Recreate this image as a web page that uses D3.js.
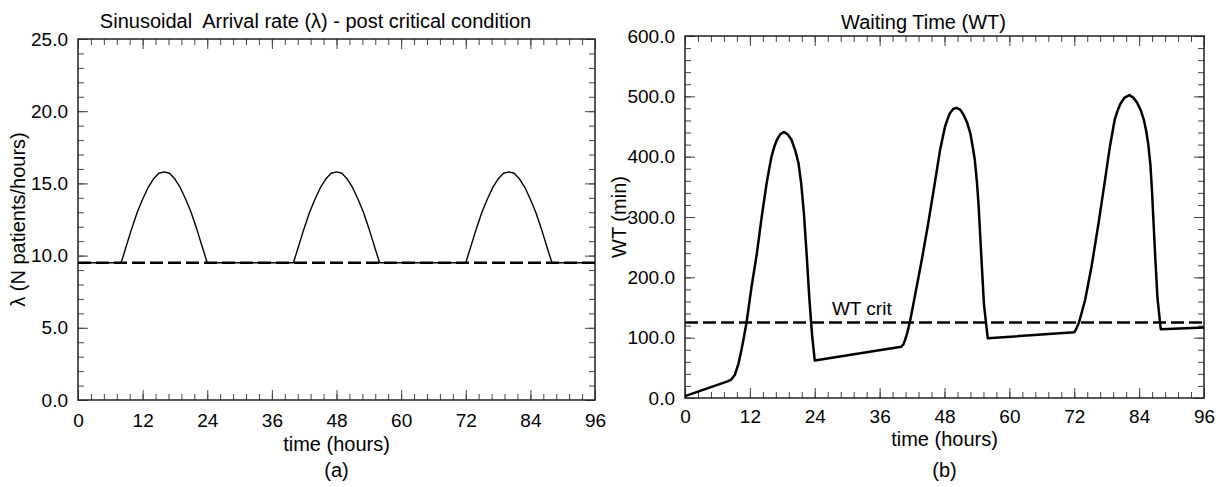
<!DOCTYPE html>
<html>
<head>
<meta charset="utf-8">
<script src="https://cdn.jsdelivr.net/npm/d3@7"></script>
<style>
  body { margin: 0; background: #fff; }
  svg { display: block; }
  text { font-family: "Liberation Sans", Arial, sans-serif; fill: #000; white-space: pre; }
</style>
</head>
<body>
<div id="chart"></div>
<script>
// time axis (hours)
var timeTicks = [0, 12, 24, 36, 48, 60, 72, 84, 96];

// panel (a): arrival rate lambda
var lambdaHours = [0, 8, 9, 10, 11, 12, 13, 14, 15, 16, 17, 18, 19, 20, 21, 22, 23, 24,
  40, 41, 42, 43, 44, 45, 46, 47, 48, 49, 50, 51, 52, 53, 54, 55, 56,
  72, 73, 74, 75, 76, 77, 78, 79, 80, 81, 82, 83, 84, 85, 86, 87, 88, 96];
var lambdaValues = [9.5, 9.5, 10.7, 11.9, 13.0, 13.9, 14.7, 15.3, 15.7, 15.8, 15.7, 15.3, 14.7, 13.9, 13.0, 11.9, 10.7, 9.5,
  9.5, 10.7, 11.9, 13.0, 13.9, 14.7, 15.3, 15.7, 15.8, 15.7, 15.3, 14.7, 13.9, 13.0, 11.9, 10.7, 9.5,
  9.5, 10.7, 11.9, 13.0, 13.9, 14.7, 15.3, 15.7, 15.8, 15.7, 15.3, 14.7, 13.9, 13.0, 11.9, 10.7, 9.5, 9.5];
var lambdaCrit = 9.5;
var lambdaTicks = [0, 5, 10, 15, 20, 25];

// panel (b): waiting time
var wtHours = [0, 8.0, 8.6, 9.2, 9.9, 10.4, 10.8, 11.4, 12.3, 13.3, 14.2, 15.1, 15.6, 16.0, 16.5, 17.0, 17.6, 18.3,
  19.0, 19.7, 20.4, 21.0, 21.5, 22.0, 22.5, 23.0, 23.5, 24.0,
  40.0, 40.4, 40.7, 41.1, 41.6, 42.5, 43.8, 45.0, 46.2, 47.2, 47.7, 48.1, 48.6, 49.0, 49.6, 50.2,
  50.9, 51.5, 52.2, 52.8, 53.3, 53.6, 54.0, 54.3, 54.6, 54.9, 55.3, 56.0,
  72.0, 72.4, 72.9, 74.0, 75.2, 76.5, 77.7, 78.6, 79.1, 79.5, 80.0, 80.5, 81.3, 82.2,
  82.9, 83.6, 84.3, 84.9, 85.3, 85.7, 86.1, 86.4, 86.7, 87.0, 87.4, 88.0, 96];
var wtValues = [3, 28, 31, 38, 57, 78, 96, 126, 184, 240, 301, 356, 381, 400, 416, 428, 437, 441,
  437, 428, 410, 389, 355, 305, 238, 165, 105, 62,
  85, 89, 96, 108, 126, 168, 229, 290, 356, 412, 433, 450, 463, 472, 479, 481,
  478, 470, 456, 438, 412, 395, 358, 320, 270, 220, 155, 99,
  109, 115, 126, 162, 218, 290, 362, 417, 442, 462, 476, 487, 498, 502,
  498, 490, 477, 460, 443, 420, 385, 340, 285, 230, 165, 114, 117];
var wtCrit = 125;
var wtTicks = [0, 100, 200, 300, 400, 500, 600];

var svg = d3.select("#chart").append("svg")
  .attr("width", 1218)
  .attr("height", 487);

var fmt = d3.format(".1f");

function panel(opt) {
  var g = svg.append("g");

  var x = d3.scaleLinear().domain([0, 96]).range([opt.left, opt.right]);
  var y = d3.scaleLinear().domain(opt.yDomain).range([opt.bottom, opt.top]);

  // minor ticks on all four sides (inward)
  var xMinor = d3.range(0, 96.01, 2.4);
  var yMinor = d3.range(opt.yDomain[0], opt.yDomain[1] + 1e-6, opt.yMinorStep);

  function addAxis(axis, tr, labels) {
    var a = g.append("g").attr("transform", tr).call(axis);
    a.select(".domain").remove();
    a.selectAll(".tick line").attr("stroke", "#444").attr("stroke-width", 1);
    if (!labels) a.selectAll(".tick text").remove();
    return a;
  }

  addAxis(d3.axisBottom(x).tickValues(xMinor).tickSizeInner(-6).tickSizeOuter(0).tickFormat(""), "translate(0," + opt.bottom + ")", false);
  addAxis(d3.axisTop(x).tickValues(xMinor).tickSizeInner(-6).tickSizeOuter(0).tickFormat(""), "translate(0," + opt.top + ")", false);
  addAxis(d3.axisLeft(y).tickValues(yMinor).tickSizeInner(-6).tickSizeOuter(0).tickFormat(""), "translate(" + opt.left + ",0)", false);
  addAxis(d3.axisRight(y).tickValues(yMinor).tickSizeInner(-6).tickSizeOuter(0).tickFormat(""), "translate(" + opt.right + ",0)", false);

  // major ticks
  var xb = addAxis(d3.axisBottom(x).tickValues(timeTicks).tickSizeInner(-10).tickSizeOuter(0).tickPadding(opt.xPad),
    "translate(0," + opt.bottom + ")", true);
  addAxis(d3.axisTop(x).tickValues(timeTicks).tickSizeInner(-10).tickSizeOuter(0), "translate(0," + opt.top + ")", false);
  var yl = addAxis(d3.axisLeft(y).tickValues(opt.yTicks).tickSizeInner(-10).tickSizeOuter(0).tickPadding(10).tickFormat(fmt),
    "translate(" + opt.left + ",0)", true);
  addAxis(d3.axisRight(y).tickValues(opt.yTicks).tickSizeInner(-10).tickSizeOuter(0), "translate(" + opt.right + ",0)", false);

  xb.selectAll("text").attr("font-size", 19).attr("font-family", "Liberation Sans, Arial, sans-serif").attr("fill", "#000");
  yl.selectAll("text").attr("font-size", 19).attr("font-family", "Liberation Sans, Arial, sans-serif").attr("fill", "#000");

  // frame
  g.append("rect")
    .attr("x", opt.left).attr("y", opt.top)
    .attr("width", opt.right - opt.left).attr("height", opt.bottom - opt.top)
    .attr("fill", "none").attr("stroke", "#222").attr("stroke-width", 1.5);

  // critical dashed line
  g.append("line")
    .attr("x1", x(0)).attr("x2", x(96))
    .attr("y1", y(opt.crit)).attr("y2", y(opt.crit))
    .attr("stroke", "#000").attr("stroke-width", 2.5)
    .attr("stroke-dasharray", "13,5");

  // data curve
  var pts = opt.hours.map(function (h, i) { return [h, opt.values[i]]; });
  g.append("path")
    .datum(pts)
    .attr("fill", "none")
    .attr("stroke", "#000")
    .attr("stroke-width", opt.lineWidth)
    .attr("stroke-linejoin", "round")
    .attr("d", d3.line()
      .x(function (d) { return x(d[0]); })
      .y(function (d) { return y(d[1]); }));

  var cx = (opt.left + opt.right) / 2;

  // titles and labels
  g.append("text")
    .attr("x", cx - 21).attr("y", opt.titleY)
    .attr("text-anchor", "middle").attr("font-size", 20)
    .text(opt.title);

  g.append("text")
    .attr("x", cx).attr("y", opt.xLabelY)
    .attr("text-anchor", "middle").attr("font-size", 20)
    .text("time (hours)");

  g.append("text")
    .attr("x", cx).attr("y", opt.captionY)
    .attr("text-anchor", "middle").attr("font-size", 20)
    .text(opt.caption);

  g.append("text")
    .attr("transform", "translate(" + opt.yLabelX + "," + ((opt.top + opt.bottom) / 2) + ") rotate(-90)")
    .attr("text-anchor", "middle").attr("dominant-baseline", "central").attr("font-size", 20)
    .text(opt.yLabel);

  return { x: x, y: y, g: g };
}

var a = panel({
  left: 78, right: 595, top: 39, bottom: 400,
  yDomain: [0, 25], yTicks: lambdaTicks, yMinorStep: 1,
  hours: lambdaHours, values: lambdaValues, crit: lambdaCrit,
  lineWidth: 1.4, xPad: 14,
  title: "Sinusoidal  Arrival rate (\u03bb) - post critical condition", titleY: 28,
  xLabelY: 451, captionY: 477, caption: "(a)",
  yLabel: "\u03bb (N patients/hours)", yLabelX: 18
});

var b = panel({
  left: 685, right: 1204, top: 36, bottom: 398,
  yDomain: [0, 600], yTicks: wtTicks, yMinorStep: 20,
  hours: wtHours, values: wtValues, crit: wtCrit,
  lineWidth: 2.5, xPad: 12,
  title: "Waiting Time (WT)", titleY: 29,
  xLabelY: 446, captionY: 477, caption: "(b)",
  yLabel: "WT (min)", yLabelX: 619
});

// label for the critical waiting time
b.g.append("text")
  .attr("x", b.x(32.7)).attr("y", b.y(wtCrit) - 8)
  .attr("text-anchor", "middle").attr("font-size", 19)
  .text("WT crit");
</script>
</body>
</html>
